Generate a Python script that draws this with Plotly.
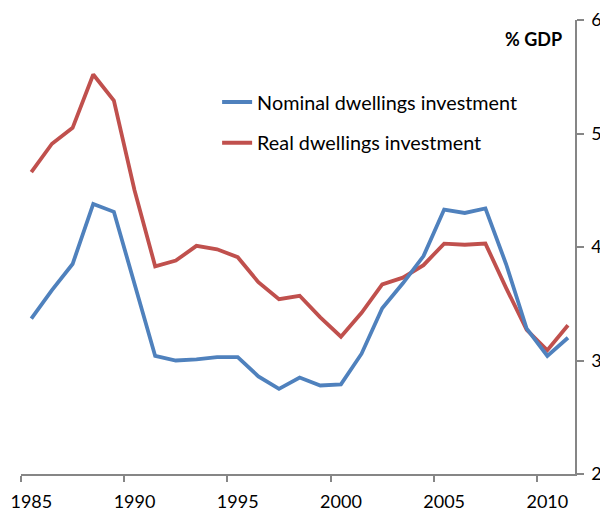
import plotly.graph_objects as go

years = [1985.5 + i for i in range(27)]
nominal = [3.37, 3.62, 3.85, 4.38, 4.31, 3.68, 3.04, 3.00, 3.01, 3.03, 3.03, 2.86, 2.75, 2.85,
           2.78, 2.79, 3.06, 3.46, 3.68, 3.92, 4.33, 4.30, 4.34, 3.85, 3.28, 3.04, 3.20]
real = [4.66, 4.91, 5.05, 5.52, 5.29, 4.50, 3.83, 3.88, 4.01, 3.98, 3.91, 3.69, 3.54, 3.57,
        3.38, 3.21, 3.42, 3.67, 3.73, 3.84, 4.03, 4.02, 4.03, 3.64, 3.27, 3.09, 3.31]
x_tick_marks = [1985, 1990, 1995, 2000, 2005, 2010]
x_label_pos = [1985.5, 1990.5, 1995.5, 2000.5, 2005.5, 2010.5]
x_labels = ["1985", "1990", "1995", "2000", "2005", "2010"]
y_ticks = [2, 3, 4, 5, 6]

FONT = "Lato"
AX = "#868686"
fig = go.Figure()
fig.add_trace(go.Scatter(x=years, y=nominal, mode="lines", name="Nominal dwellings investment",
                         legendgroup="a", xaxis="x2", line=dict(color="#4F81BD", width=3.8)))
fig.add_trace(go.Scatter(x=years, y=real, mode="lines", name="Real dwellings investment",
                         legendgroup="b", xaxis="x", line=dict(color="#C0504D", width=3.8)))

fig.update_layout(
    width=600, height=503,
    margin=dict(l=13, r=33, t=12, b=37, autoexpand=False),
    plot_bgcolor="white", paper_bgcolor="white",
    font=dict(family=FONT, size=18, color="#000000"),
    showlegend=True,
    legend=dict(x=0.354, y=0.862, xanchor="left", yanchor="top",
                bgcolor="rgba(0,0,0,0)", font=dict(size=19.8, family=FONT),
                tracegroupgap=12, itemwidth=30),
    xaxis=dict(range=[1985, 2011.84], tickvals=x_tick_marks, showticklabels=False,
               showgrid=False, zeroline=False, showline=True, linecolor=AX, linewidth=1.5,
               ticks="outside", ticklen=6, tickcolor=AX, tickwidth=1.5, automargin=False),
    xaxis2=dict(overlaying="x", matches="x", anchor="y", side="bottom",
                tickvals=x_label_pos, ticktext=x_labels, ticks="", showline=False,
                showgrid=False, zeroline=False, tickfont=dict(size=18),
                ticklabelstandoff=15, automargin=False),
    yaxis=dict(range=[2, 6], tickvals=y_ticks, side="right", showgrid=False, zeroline=False,
               showline=True, linecolor=AX, linewidth=1.5, ticks="outside", ticklen=7,
               tickcolor=AX, tickwidth=1.5, tickfont=dict(size=18), ticklabelstandoff=4,
               automargin=False),
    annotations=[dict(text="<b>% GDP</b>", x=0.98, y=0.958, xref="paper", yref="paper",
                      xanchor="right", yanchor="middle", showarrow=False,
                      font=dict(size=18, family=FONT))],
)
fig.write_html("out.html")
